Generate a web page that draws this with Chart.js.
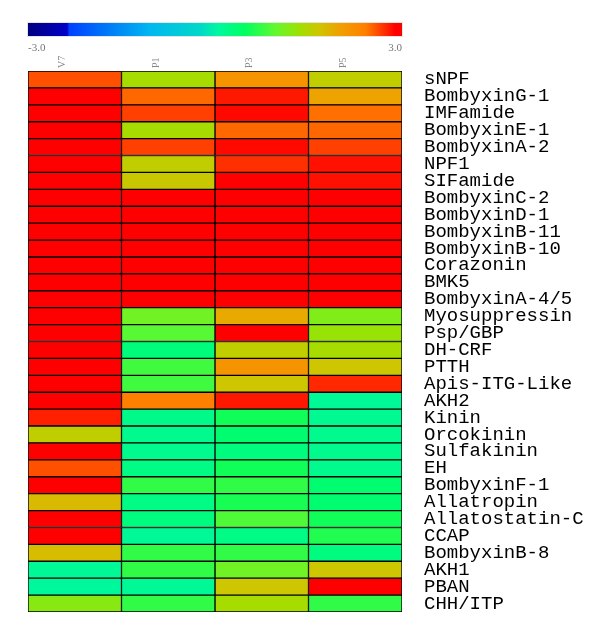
<!DOCTYPE html>
<html>
<head>
<meta charset="utf-8">
<script src="https://cdn.jsdelivr.net/npm/chart.js@4/dist/chart.umd.min.js"></script>
<style>
  body { margin: 0; background: #fff; }
  #wrap { width: 600px; height: 630px; }
</style>
</head>
<body>
<div id="wrap"><canvas id="heat"></canvas></div>
<script>
// Row and column labels
const peptides = ['sNPF', 'BombyxinG-1', 'IMFamide', 'BombyxinE-1', 'BombyxinA-2', 'NPF1',
  'SIFamide', 'BombyxinC-2', 'BombyxinD-1', 'BombyxinB-11', 'BombyxinB-10', 'Corazonin',
  'BMK5', 'BombyxinA-4/5', 'Myosuppressin', 'Psp/GBP', 'DH-CRF', 'PTTH', 'Apis-ITG-Like',
  'AKH2', 'Kinin', 'Orcokinin', 'Sulfakinin', 'EH', 'BombyxinF-1', 'Allatropin',
  'Allatostatin-C', 'CCAP', 'BombyxinB-8', 'AKH1', 'PBAN', 'CHH/ITP'];
const stages = ['V7', 'P1', 'P3', 'P5'];

// Expression values (log scale, clipped at +/-3), one array per stage
const v7 = [2.59, 3, 3, 3, 3, 3, 3, 3, 3, 3, 3, 3, 3, 3, 3, 3,
  3, 3, 3, 3, 2.77, 1.57, 3, 2.59, 3, 1.76, 3, 3, 1.74, 0.12, 0.08, 1.21];
const p1 = [1.41, 2.5, 2.65, 1.41, 2.65, 1.57, 1.63, 3, 3, 3, 3, 3, 3, 3, 1.06, 0.92,
  0.3, 0.8, 0.8, 2.41, 0.2, 0.18, 0.18, 0.23, 0.72, 0.23, 0.28, 0.12, 0.72, 0.72, 0.12, 0.72];
const p3 = [2.16, 2.8, 2.86, 2.5, 2.86, 2.71, 3, 3, 3, 3, 3, 3, 3, 3, 1.92, 3,
  1.57, 2.16, 1.66, 2.8, 0.56, 0.38, 0.28, 0.56, 0.72, 0.6, 0.88, 0.23, 0.72, 1.06, 1.66, 1.41];
const p5 = [1.57, 1.97, 2.47, 2.5, 2.65, 2.83, 2.83, 3, 3, 3, 3, 3, 3, 3, 1.16, 1.31,
  1.41, 1.66, 2.74, 0.12, 0.15, 0.18, 0.18, 0.18, 0.38, 0.38, 0.56, 0.64, 0.28, 1.66, 3, 0.72];
const stageValues = [v7, p1, p3, p5];

// Colour scale
const scaleMin = -3.0;
const scaleMax = 3.0;
const scaleLabels = ['-3.0', '3.0'];
const colourStops = [
  [-3.0, '#000080'], [-2.37, '#0000c8'], [-2.34, '#0040ff'], [-1.04, '#00b8f0'],
  [-0.24, '#00d8c8'], [0.05, '#00f8a0'], [0.48, '#00ff60'], [0.96, '#60f830'],
  [1.36, '#a0e000'], [1.68, '#d0c400'], [2.0, '#f0a000'], [2.41, '#ff8000'],
  [2.65, '#ff4000'], [2.89, '#ff0000'], [3.0, '#ff0000']
];

function hexToRgb(h) {
  return [1, 3, 5].map(i => parseInt(h.slice(i, i + 2), 16));
}

function cellColour(v) {
  v = Math.max(scaleMin, Math.min(scaleMax, v));
  for (let i = 1; i < colourStops.length; i++) {
    const [v1, c1] = colourStops[i];
    if (v <= v1) {
      const [v0, c0] = colourStops[i - 1];
      const t = v1 === v0 ? 1 : (v - v0) / (v1 - v0);
      const a = hexToRgb(c0), b = hexToRgb(c1);
      const rgb = a.map((x, k) => Math.round(x + (b[k] - x) * t));
      return `rgb(${rgb.join(',')})`;
    }
  }
  return colourStops[colourStops.length - 1][1];
}

// gradient bar with min / max labels above the heat map
const colourBar = {
  id: 'colourBar',
  afterDraw(chart) {
    const { ctx, chartArea: { left, right, top } } = chart;
    const barTop = top - 48;
    const g = ctx.createLinearGradient(left, 0, right, 0);
    colourStops.forEach(([v, c]) => g.addColorStop((v - scaleMin) / (scaleMax - scaleMin), c));
    ctx.save();
    ctx.fillStyle = g;
    ctx.fillRect(left, barTop, right - left, 13);
    ctx.strokeStyle = '#e4e4e4';
    ctx.lineWidth = 1;
    ctx.strokeRect(left - 0.5, barTop - 0.5, right - left + 1, 14);
    ctx.fillStyle = '#777';
    ctx.font = '11px "Liberation Serif"';
    ctx.textBaseline = 'middle';
    ctx.textAlign = 'left';
    ctx.fillText(scaleLabels[0], left, top - 23);
    ctx.textAlign = 'right';
    ctx.fillText(scaleLabels[1], right, top - 23);
    ctx.restore();
  }
};

new Chart(document.getElementById('heat'), {
  type: 'bar',
  data: {
    labels: peptides,
    datasets: stages.map((s, i) => ({
      label: s,
      data: peptides.map(() => 1),
      backgroundColor: stageValues[i].map(cellColour),
      borderColor: '#000',
      borderWidth: 1,
      borderSkipped: false,
      barPercentage: 1,
      categoryPercentage: 1
    }))
  },
  options: {
    indexAxis: 'y',
    responsive: true,
    maintainAspectRatio: false,
    animation: false,
    layout: { padding: { left: 28, right: 0, top: 0, bottom: 18 } },
    plugins: { legend: { display: false }, tooltip: { enabled: false } },
    scales: {
      x: { stacked: true, min: 0, max: 4, display: false },
      xTop: {
        type: 'category',
        axis: 'x',
        labels: stages,
        position: 'top',
        offset: true,
        grid: { display: false, drawTicks: false },
        border: { display: false },
        ticks: { minRotation: 90, maxRotation: 90, padding: 3, color: '#888',
                 font: { family: 'Liberation Serif', size: 10 } },
        afterFit: s => { s.height = 71; s.paddingLeft = 0; s.paddingRight = 0; }
      },
      y: {
        stacked: true,
        position: 'right',
        grid: { display: false, drawTicks: false },
        border: { display: false },
        ticks: { color: '#000', padding: 22, autoSkip: false,
                 font: { family: 'Liberation Mono', size: 19 } },
        afterFit: s => { s.width = 198; s.paddingTop = 0; s.paddingBottom = 0; }
      }
    }
  },
  plugins: [colourBar]
});
</script>
</body>
</html>
